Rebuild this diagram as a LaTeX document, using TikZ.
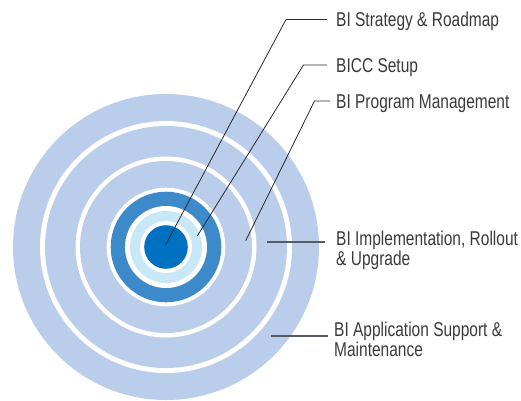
\documentclass[tikz,border=0pt]{standalone}
\usepackage{fontspec}
\setmainfont{Liberation Sans}[FakeStretch=0.775]
\definecolor{ringblue}{HTML}{BACDEA}
\definecolor{darkring}{HTML}{3C8AC9}
\definecolor{lightring}{HTML}{C8E8F8}
\definecolor{coreblue}{HTML}{0070C0}
\definecolor{labeltext}{HTML}{3A3A3A}
\definecolor{leadcol}{HTML}{2A2A2A}
\definecolor{leadgray}{HTML}{555A63}
\tikzset{
  lbl/.style={anchor=base west, inner sep=0pt, align=left, text=labeltext,
    font=\fontsize{20}{17.3}\selectfont},
  leader/.style={draw=leadcol, line width=0.8pt},
  leaderthick/.style={draw=leadgray, line width=1.6pt},
}
\begin{document}
\begin{tikzpicture}[x=1pt,y=-1pt]
\useasboundingbox (0,0) rectangle (521,400);
\coordinate (c) at (166,247);
% rings
\fill[ringblue] (c) circle[radius=153];
\fill[white] (c) circle[radius=126];
\fill[ringblue] (c) circle[radius=121];
\fill[white] (c) circle[radius=90.5];
\fill[ringblue] (c) circle[radius=86];
\fill[white] (c) circle[radius=59.3];
\fill[darkring] (c) circle[radius=55.3];
\fill[white] (c) circle[radius=41];
\fill[lightring] (c) circle[radius=36];
\fill[white] (c) circle[radius=26];
\fill[coreblue] (c) circle[radius=21.8];
% labels (multi-line nodes: base = last line)
\node[lbl] (t1) at (336,26.5) {BI Strategy \& Roadmap};
\node[lbl] (t2) at (336,72) {BICC Setup};
\node[lbl] (t3) at (336,108.5) {BI Program Management};
\node[lbl] (t4) at (336,265) {BI Implementation, Rollout\\\& Upgrade};
\node[lbl] (t5) at (334,356.5) {BI Application Support \&\\Maintenance};
% leader points
\coordinate (s1) at (166,244);
\coordinate (k1) at (286,19.5);
\coordinate (e1) at (327,19.5);
\coordinate (s2) at (197.3,236);
\coordinate (k2) at (303.5,65);
\coordinate (e2) at (327,65);
\coordinate (s3) at (245.7,240.7);
\coordinate (k3) at (314.5,101);
\coordinate (e3) at (330,101);
\coordinate (s4) at (267,241.7);
\coordinate (e4) at (325,241.7);
\coordinate (s5) at (270.7,336);
\coordinate (e5) at (328.3,336);
\draw[leader] (s1) -- (k1) -- (e1);
\draw[leader] (s2) -- (k2) -- (e2);
\draw[leader] (s3) -- (k3) -- (e3);
\draw[leaderthick] (s4) -- (e4);
\draw[leaderthick] (s5) -- (e5);
\end{tikzpicture}
\end{document}
